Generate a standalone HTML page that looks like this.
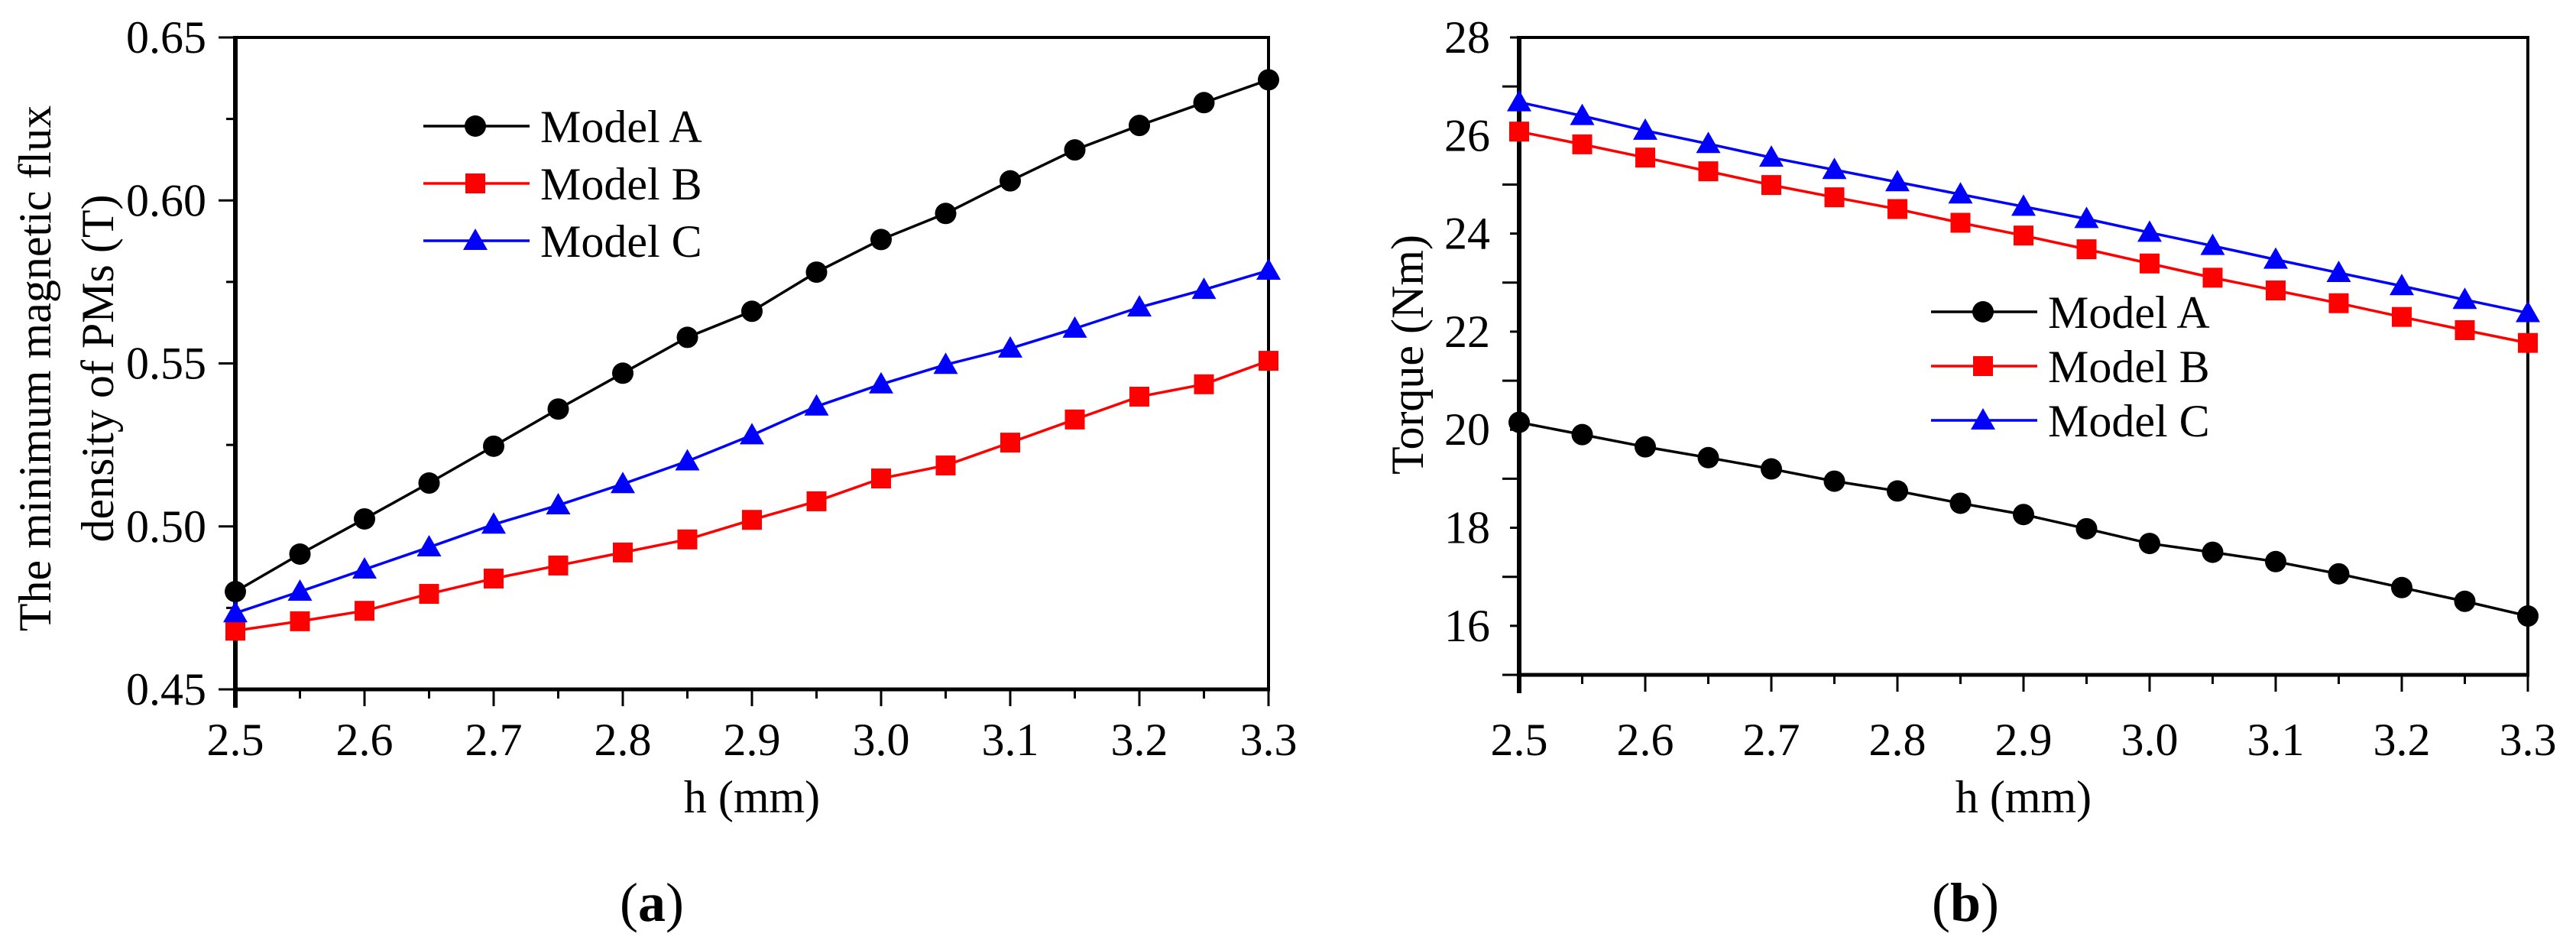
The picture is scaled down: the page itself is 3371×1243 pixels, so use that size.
<!DOCTYPE html>
<html><head><meta charset="utf-8"><style>
html,body{margin:0;padding:0;background:#fff;}
svg{display:block;font-family:"Liberation Serif","Times New Roman",serif;}
</style></head><body>
<svg id="fig" width="3371" height="1243" viewBox="0 0 3371 1243" xmlns="http://www.w3.org/2000/svg"></svg>
<script>
const xCats = [2.5,2.55,2.6,2.65,2.7,2.75,2.8,2.85,2.9,2.95,3.0,3.05,3.1,3.15,3.2,3.25,3.3];
const xTickLabels = ["2.5","2.6","2.7","2.8","2.9","3.0","3.1","3.2","3.3"];
const aModelA = [0.480,0.4915,0.5023,0.5133,0.5246,0.536,0.547,0.558,0.566,0.578,0.588,0.596,0.606,0.6155,0.623,0.630,0.637];
const aModelB = [0.468,0.4709,0.4741,0.4793,0.484,0.488,0.492,0.496,0.502,0.5077,0.5147,0.5187,0.5257,0.5328,0.5398,0.5436,0.5508];
const aModelC = [0.4734,0.480,0.4868,0.4936,0.5006,0.5065,0.513,0.520,0.528,0.5368,0.5436,0.5496,0.5546,0.5607,0.5672,0.5726,0.5785];
const aYTicks = ["0.45","0.50","0.55","0.60","0.65"];
const bModelA = [20.15,19.9,19.65,19.43,19.2,18.95,18.75,18.5,18.27,17.98,17.68,17.5,17.31,17.06,16.78,16.5,16.2];
const bModelB = [26.08,25.82,25.55,25.27,24.99,24.74,24.5,24.22,23.96,23.68,23.39,23.1,22.84,22.58,22.3,22.03,21.77];
const bModelC = [26.68,26.4,26.1,25.83,25.55,25.3,25.05,24.8,24.55,24.3,24.02,23.75,23.47,23.2,22.93,22.65,22.38];
const bYTicks = ["16","18","20","22","24","26","28"];
const seriesNames = ["Model A","Model B","Model C"];

const NS="http://www.w3.org/2000/svg";
const svg=document.getElementById('fig');
function el(tag,attrs,parent){const e=document.createElementNS(NS,tag);for(const k in attrs)e.setAttribute(k,attrs[k]);(parent||svg).appendChild(e);return e;}

function marker(g,kind,x,y,color){
  let m;
  if(kind==='circle'){m=el('circle',{cx:x,cy:y,r:14,fill:color},g);}
  else if(kind==='square'){m=el('rect',{x:x-13,y:y-13,width:26,height:26,fill:color},g);}
  else {m=el('polygon',{points:`${x},${y-16} ${x-16},${y+12} ${x+16},${y+12}`,fill:color},g);}
  return m;
}

function chart(cfg){
  const g=el('g',{});
  
  
  const {L,R,T,B,ymin,ymax,yStep,yMinor}=cfg;
  const X=v=>L+(v-2.5)/0.8*(R-L);
  const Y=v=>B-(v-ymin)/(ymax-ymin)*(B-T);
  // frame
  const fr=el('rect',{x:L,y:T,width:R-L,height:B-T,fill:'none',stroke:'#000','stroke-width':4},g);
  
  
  el('line',{x1:L,y1:T-2,x2:L,y2:B+24,stroke:'#000','stroke-width':6},g);
  el('line',{x1:L-2,y1:B,x2:R+2,y2:B,stroke:'#000','stroke-width':5},g);
  // y ticks
  for(let v=ymin;v<=ymax+1e-9;v+=yMinor){
    const y=Y(v);const major=Math.abs(Math.round((v-ymin)/yStep)*yStep-(v-ymin))<1e-6;
    el('line',{x1:L-(major?22:12),y1:y,x2:L,y2:y,stroke:'#000','stroke-width':3},g);
  }
  cfg.yLabels.forEach(s=>{
    const t=el('text',{x:L-38,y:Y(parseFloat(s))+20,'font-size':60,'text-anchor':'end',fill:'#000'},g);
    t.textContent=s;
    
    
  });
  // x ticks
  xCats.forEach((v,i)=>{
    el('line',{x1:X(v),y1:B,x2:X(v),y2:B+(i%2===0?22:12),stroke:'#000','stroke-width':3},g);
  });
  xTickLabels.forEach(s=>{
    const t=el('text',{x:X(parseFloat(s)),y:988,'font-size':60,'text-anchor':'middle',fill:'#000'},g);
    t.textContent=s;
    
    
  });
  const xt=el('text',{x:(L+R)/2,y:1063,'font-size':60,'text-anchor':'middle',fill:'#000'},g);
  xt.textContent='h (mm)';
  
  
  // series
  const kinds=['circle','square','triangle'],colors=['#000','#f00','#00f'];
  cfg.series.forEach((arr,si)=>{
    const sg=el('g',{},g);
    
    
    el('polyline',{points:arr.map((v,i)=>X(xCats[i])+','+Y(v)).join(' '),fill:'none',stroke:colors[si],'stroke-width':3.5},sg);
    arr.forEach((v,i)=>{
      const m=marker(sg,kinds[si],X(xCats[i]),Y(v),colors[si]);
      
      
    });
  });
  // legend
  const lg=el('g',{},g);
  
  
  seriesNames.forEach((n,i)=>{
    const y=cfg.legY+i*cfg.legDy, tx=cfg.legX;
    const eg=el('g',{},lg);
    
    
    el('line',{x1:tx-153,y1:y,x2:tx-14,y2:y,stroke:colors[i],'stroke-width':3.5},eg);
    marker(eg,kinds[i],tx-85,y,colors[i]);
    const t=el('text',{x:tx,y:y+21,'font-size':60,fill:'#000'},eg);
    t.textContent=n;
  });
  return {g,X,Y};
}

chart({name:'chart-a',L:308,R:1660,T:49,B:902,ymin:0.45,ymax:0.65,yStep:0.05,yMinor:0.025,
  yLabels:aYTicks,series:[aModelA,aModelB,aModelC],legX:707,legY:165,legDy:75});
chart({name:'chart-b',L:1988,R:3308,T:49,B:883,ymin:15,ymax:28,yStep:2,yMinor:1,
  yLabels:bYTicks,series:[bModelA,bModelB,bModelC],legX:2680,legY:408,legDy:71});
// fix chart-b y ticks: majors at even values
(function(){})();

function vtext(lines,x0,dx,cy,name){
  lines.forEach((s,i)=>{
    const t=el('text',{x:0,y:0,'font-size':60,'text-anchor':'middle',fill:'#000',transform:`translate(${x0+i*dx},${cy}) rotate(-90)`});
    t.textContent=s;
    
    
  });
}
vtext(["The minimum magnetic flux","density of PMs (T)"],66,82,482,'y-axis-title-a');
vtext(["Torque (Nm)"],1862,0,464,'y-axis-title-b');

const la=el('text',{x:853,y:1205,'font-size':72,'text-anchor':'middle',fill:'#000'});
la.innerHTML='(<tspan font-weight="bold">a</tspan>)';


const lb=el('text',{x:2572,y:1205,'font-size':72,'text-anchor':'middle',fill:'#000'});
lb.innerHTML='(<tspan font-weight="bold">b</tspan>)';


</script>
</body></html>
